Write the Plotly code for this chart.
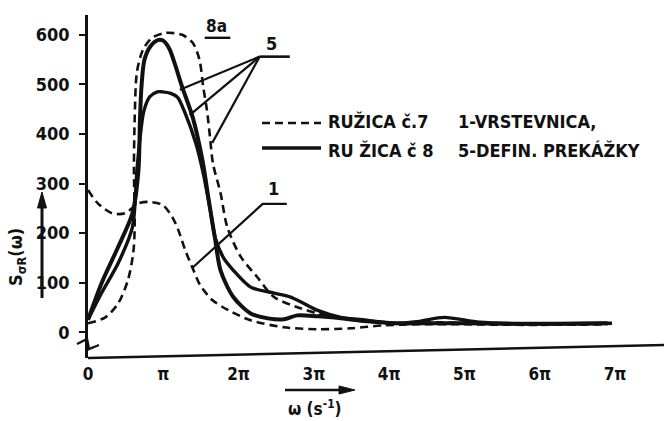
import math
import plotly.graph_objects as go

PI = math.pi

# ---- data (x in multiples of pi, y = S(omega)) ----
c7_def_x = [0, 0.23, 0.4, 0.53, 0.6, 0.62, 0.61, 0.62, 0.65, 0.73, 0.85, 1.03, 1.25, 1.39, 1.48, 1.53,
            1.58, 1.62, 1.66, 1.76, 1.85, 2.03, 2.25, 2.47, 2.83, 3.05, 3.4, 3.8, 4.2, 4.7, 5.2, 5.8, 6.4, 6.95]
c7_def_y = [18, 30, 58, 105, 159, 210, 330, 430, 525, 570, 594, 604, 600, 584, 550, 495,
            448, 394, 340, 281, 212, 152, 111, 71, 48, 38, 27, 20, 18, 20, 17, 16, 16, 17]

c7_vrs_x = [0, 0.13, 0.32, 0.49, 0.67, 0.8, 0.99, 1.12, 1.2, 1.29, 1.39, 1.49, 1.65, 1.87, 2.16,
            2.6, 3.05, 3.49, 3.93, 4.4, 5.0, 5.6, 6.2, 6.9]
c7_vrs_y = [287, 260, 240, 240, 260, 263, 257, 232, 206, 166, 129, 95, 65, 44, 24,
            10, 6, 8, 14, 16, 16, 15, 15, 16]

c8_a_x = [0, 0.18, 0.4, 0.59, 0.67, 0.69, 0.71, 0.75, 0.83, 0.92, 1.0, 1.08, 1.15, 1.25, 1.39, 1.52, 1.6,
          1.69, 1.76, 1.93, 2.16, 2.39, 2.6, 2.78, 3.05, 3.36, 3.72, 4.07, 4.5, 5.0, 5.6, 6.2, 6.9]
c8_a_y = [25, 99, 172, 240, 327, 428, 495, 550, 577, 589, 588, 572, 543, 495, 434, 347, 270,
          186, 125, 71, 38, 28, 26, 34, 32, 28, 22, 18, 18, 18, 17, 17, 18]

c8_b_x = [0, 0.18, 0.4, 0.59, 0.65, 0.69, 0.74, 0.82, 0.92, 0.99, 1.1, 1.19, 1.29, 1.43, 1.53, 1.62,
          1.69, 1.8, 1.93, 2.16, 2.47, 2.69, 2.83, 3.05, 3.36, 3.72, 4.07, 4.4, 4.73, 5.2, 5.8, 6.4, 6.96]
c8_b_y = [25, 79, 139, 212, 327, 390, 445, 475, 485, 485, 482, 474, 442, 382, 321, 250,
          190, 150, 125, 91, 79, 71, 61, 44, 30, 24, 18, 22, 30, 20, 17, 17, 18]

y_ticks = [0, 100, 200, 300, 400, 500, 600]
x_tick_mult = [0, 1, 2, 3, 4, 5, 6, 7]
x_tick_text = ["0", "π", "2π", "3π", "4π", "5π", "6π", "7π"]

legend_series = ["RUŽICA č.7", "RU ŽICA č 8"]
legend_keys = ["1-VRSTEVNICA,", "5-DEFIN. PREKÁŽKY"]

INK = "#111111"
FONT = "DejaVu Sans Condensed, Liberation Sans Narrow, DejaVu Sans, sans-serif"

def px(vals):
    return [v * PI for v in vals]

fig = go.Figure()
dash = "8px,5px"
fig.add_trace(go.Scatter(x=px(c7_def_x), y=c7_def_y, mode="lines",
                         line=dict(color=INK, width=2.6, dash=dash, shape="spline", smoothing=0.8)))
fig.add_trace(go.Scatter(x=px(c7_vrs_x), y=c7_vrs_y, mode="lines",
                         line=dict(color=INK, width=2.6, dash=dash, shape="spline", smoothing=0.8)))
fig.add_trace(go.Scatter(x=px(c8_a_x), y=c8_a_y, mode="lines",
                         line=dict(color=INK, width=4, shape="spline", smoothing=0.8)))
fig.add_trace(go.Scatter(x=px(c8_b_x), y=c8_b_y, mode="lines",
                         line=dict(color=INK, width=3.4, shape="spline", smoothing=0.8)))

# label pointer lines (label "5" and label "1")
five_hub = (2.28, 556)
five_targets = [(1.22, 489), (1.35, 438), (1.65, 382)]
for tx, ty in five_targets:
    fig.add_trace(go.Scatter(x=[five_hub[0] * PI, tx * PI], y=[five_hub[1], ty], mode="lines",
                             line=dict(color=INK, width=2.2)))
fig.add_trace(go.Scatter(x=[five_hub[0] * PI, 2.68 * PI], y=[five_hub[1], five_hub[1]], mode="lines",
                         line=dict(color=INK, width=2.6)))
one_hub = (2.32, 259)
fig.add_trace(go.Scatter(x=[2.64 * PI, one_hub[0] * PI, 1.38 * PI], y=[259, one_hub[1], 129], mode="lines",
                         line=dict(color=INK, width=2.2)))
fig.add_trace(go.Scatter(x=[1.55 * PI, 1.89 * PI], y=[594, 594], mode="lines",
                         line=dict(color=INK, width=2.4)))

anns = [
    dict(x=2.44 * PI, y=582, text="5", font=dict(size=18)),
    dict(x=2.47 * PI, y=289, text="1", font=dict(size=18)),
    dict(x=1.71 * PI, y=617, text="8a", font=dict(size=17)),
]
for a in anns:
    a.update(xref="x", yref="y", showarrow=False)
    a["font"].update(family=FONT, color=INK, weight="bold")
    fig.add_annotation(**a)

# custom legend
W, H, L, T = 664, 421, 88, 15
PW, PH = W - L, 358 - T
def pxp(x):
    return (x - L) / PW
def pyp(y):
    return (358 - y) / PH

for i, (ypix, d) in enumerate([(121, dash), (150, "solid")]):
    fig.add_shape(type="line", xref="paper", yref="paper", x0=pxp(262), x1=pxp(321),
                  y0=pyp(ypix + 2 - 4 * i), y1=pyp(ypix + 2 - 4 * i),
                  line=dict(color=INK, width=2.6 if i == 0 else 3.4, dash=d))
    fig.add_annotation(xref="paper", yref="paper", x=pxp(327), y=pyp(ypix), xanchor="left",
                       yanchor="middle", text=legend_series[i], showarrow=False, borderpad=0,
                       font=dict(family=FONT, size=18, color=INK, weight="bold"))
    fig.add_annotation(xref="paper", yref="paper", x=pxp(457), y=pyp(ypix), xanchor="left",
                       yanchor="middle", text=legend_keys[i], showarrow=False, borderpad=0,
                       font=dict(family=FONT, size=18, color=INK, weight="bold"))

# tilted x axis line
fig.add_shape(type="line", xref="paper", yref="paper", x0=0, y0=pyp(358), x1=1, y1=pyp(345),
              line=dict(color=INK, width=2.6))
# y-axis break mark
fig.add_shape(type="path", xref="paper", yref="paper",
              path="M {:.4f},{:.4f} L {:.4f},{:.4f} L {:.4f},{:.4f} L {:.4f},{:.4f}".format(
                  pxp(77), pyp(344), pxp(87), pyp(339), pxp(89), pyp(349), pxp(99), pyp(345)),
              line=dict(color=INK, width=2.4))

# axis titles with arrows
fig.add_annotation(xref="paper", yref="paper", x=pxp(17), y=pyp(257), textangle=-90,
                   xanchor="center", yanchor="middle",
                   text="S<sub>σR</sub>(ω)", showarrow=False,
                   font=dict(family=FONT, size=18, color=INK, weight="bold"))
fig.add_shape(type="line", xref="paper", yref="paper", x0=pxp(42), x1=pxp(42), y0=pyp(298), y1=pyp(204),
              line=dict(color=INK, width=3))
fig.add_shape(type="path", xref="paper", yref="paper", fillcolor=INK,
              path="M {:.4f},{:.4f} L {:.4f},{:.4f} L {:.4f},{:.4f} Z".format(
                  pxp(42), pyp(192), pxp(37.5), pyp(208), pxp(46.5), pyp(208)),
              line=dict(color=INK, width=1))
fig.add_annotation(xref="paper", yref="paper", x=pxp(315), y=pyp(408),
                   xanchor="center", yanchor="middle",
                   text="ω (s<sup>-1</sup>)", showarrow=False,
                   font=dict(family=FONT, size=17, color=INK, weight="bold"))
fig.add_shape(type="line", xref="paper", yref="paper", x0=pxp(285), x1=pxp(342), y0=pyp(390), y1=pyp(390),
              line=dict(color=INK, width=2.6))
fig.add_shape(type="path", xref="paper", yref="paper", fillcolor=INK,
              path="M {:.4f},{:.4f} L {:.4f},{:.4f} L {:.4f},{:.4f} Z".format(
                  pxp(355), pyp(390), pxp(339), pyp(386), pxp(339), pyp(394)),
              line=dict(color=INK, width=1))

fig.update_layout(
    width=W, height=H, showlegend=False,
    margin=dict(l=L, r=0, t=T, b=H - 358),
    paper_bgcolor="white", plot_bgcolor="white",
    xaxis=dict(range=[0, 7.65 * PI], showgrid=False, zeroline=False, showline=False,
               tickvals=[m * PI for m in x_tick_mult], ticktext=x_tick_text, ticks="",
               tickfont=dict(family=FONT, size=17, color=INK, weight="bold"), ticklabelstandoff=4),
    yaxis=dict(range=[-52, 640], showgrid=False, zeroline=False, showline=True, linecolor=INK,
               linewidth=2.6, tickvals=y_ticks, ticks="outside", ticklen=6, tickwidth=2.4,
               tickcolor=INK, tickfont=dict(family=FONT, size=18, color=INK, weight="bold"),
               ticklabelstandoff=6),
    font=dict(family=FONT, color=INK),
)
fig.write_html("out.html", config={"displayModeBar": False},
               post_script="document.body.style.margin='0';")
